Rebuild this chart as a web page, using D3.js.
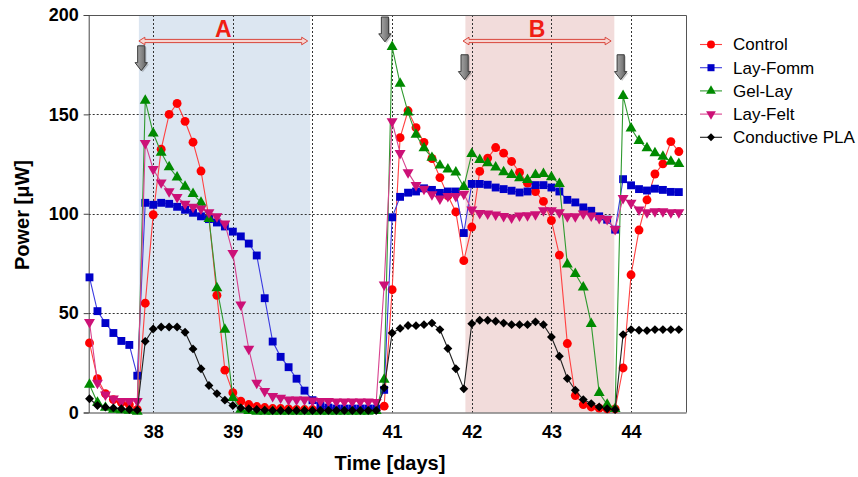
<!DOCTYPE html>
<html>
<head>
<meta charset="utf-8">
<script src="https://cdn.jsdelivr.net/npm/d3@7"></script>
<style>
  html, body { margin: 0; padding: 0; background: #fff; }
  svg { display: block; font-family: "Liberation Sans", Arial, sans-serif; }
</style>
</head>
<body>
<svg id="chart" width="858" height="477"></svg>
<script>
// ---------- data ----------
const times = [37.2,37.3,37.4,37.5,37.6,37.7,37.8,37.9,38.0,38.1,38.2,38.3,38.4,38.5,38.6,38.7,38.8,38.9,39.0,39.1,39.2,39.3,39.4,39.5,39.6,39.7,39.8,39.9,40.0,40.1,40.2,40.3,40.4,40.5,40.6,40.7,40.8,40.9,41.0,41.1,41.2,41.3,41.4,41.5,41.6,41.7,41.8,41.9,42.0,42.1,42.2,42.3,42.4,42.5,42.6,42.7,42.8,42.9,43.0,43.1,43.2,43.3,43.4,43.5,43.6,43.7,43.8,43.9,44.0,44.1,44.2,44.3,44.4,44.5,44.6];

const control = [35,17,9.5,6.5,5,4,1.5,55,99.5,132.5,150,155.5,146.5,136,121.5,98,59,21.3,10,5.7,4,3,2.5,2,2,1.8,1.5,1.5,1.5,1.5,1.5,1.5,1.5,1.5,1.5,1.5,1.5,3.2,61.8,138.3,151.8,143.3,135.9,127.8,118.2,109,100.9,76.4,93.3,121.3,128,133.3,130.5,126.3,120.8,115.4,111.2,106.2,96.6,79.2,34.7,8.5,4,2.8,2.2,1.8,1.8,22.4,69.3,91.8,107,120,125.1,136.3,131.3];

const layFomm = [68,51,45,40,36,34,18.5,105.5,104.5,105.5,105,103.5,102,100.5,98.7,97.3,95.6,93.6,91,88.6,85,79,57.5,35.7,28,22.8,17,11,6.2,3.5,2.5,2,2,2,2,2,2,11.4,98.2,108.5,110.6,111.2,112.8,112,110.5,111.2,111.2,90.3,115,115,114.6,113.2,112.4,111.6,110.7,111.2,114.4,114.4,113.2,111.2,107,105.7,103.2,101.5,98.7,97,92,117.4,114.3,112.4,111.7,112.6,112,111,110.9];

const gelLay = [14,5,2.5,1.5,1.2,1,0.5,157,140.5,130.8,123.5,118.3,113.7,110,105.6,97.5,62.6,41.7,7.4,1.5,0.8,0.5,0.5,0.5,0.5,0.5,0.5,0.5,0.5,0.5,0.5,0.5,0.5,0.5,0.5,0.5,0.8,16.6,184,165.5,151,139.8,133,128.2,124.3,122.4,120.8,113.5,130.2,127.1,125.5,123.3,121,119.6,117.9,117.1,119.6,120.1,118.4,115.1,74.6,69.8,63,44.6,9.9,4,1.9,159.3,143,136.7,133,130.5,128.8,126.3,125.1];

const layFelt = [45.4,14.9,9,6.9,5.7,5.7,5.7,135.5,122.4,115.7,111.2,108.4,105,103.4,102.5,100.7,98.7,95,80.2,54.3,32,14.9,10.7,8.2,7.4,6.5,6.5,6.5,6,5.7,5.7,5.5,5.5,5.5,5.5,5.5,5.2,64.3,146.4,130.5,120.8,114.4,112.5,109.7,107.6,108.8,108.8,110,102,100.3,100.1,99.5,98.8,98,99,99.2,99.7,101.7,101.7,100.7,98.7,98.7,100,99,97.8,97.3,92.3,107.9,105.4,102,100.7,101.2,101.2,100.7,100.7];

const conductivePLA = [6.9,3.5,2.7,2.3,1.9,1.5,1.2,35.8,42,43,43,43,40.4,32,22,13.6,9.5,6.2,3.5,2.3,1.9,1.5,1.2,1,1,1,1,1,1,1,1,1,1,1,1,1,1,12.4,40,42.3,43.8,43.7,44.2,45,41.7,32.2,22,11.9,44.7,46.4,46.4,45.9,45,44.2,44.2,44.2,45.6,44.2,38,28.3,17.1,11.2,6.5,4.5,2.8,1.9,1.5,39.2,41.7,41.4,41.2,41.7,41.7,41.7,41.7];

const seriesNames = ["Control","Lay-Fomm","Gel-Lay","Lay-Felt","Conductive PLA"];
const seriesValues = [control, layFomm, gelLay, layFelt, conductivePLA];
const xTicks = [38,39,40,41,42,43,44];
const yTicks = [0,50,100,150,200];

// annotations (data coordinates)
const regionLabels = ["A","B"];
const regionStart = [37.82, 41.92];
const regionEnd   = [39.97, 43.79];
const rangeArrowStart = [37.82, 41.89];
const rangeArrowEnd   = [39.94, 43.75];
const downArrowT   = [37.85, 40.91, 41.91, 43.87];
const downArrowTop = [184.5, 199, 180, 180];
const downArrowBot = [172, 186.5, 167.5, 167.5];

// ---------- styles ----------
const colors = ["#ff0000","#0000c8","#008a00","#cc1177","#000000"];
const lineColors = ["#ff4040","#3a3ae0","#2f9a2f","#d8428f","#222222"];
const symbols = [d3.symbolCircle, d3.symbolSquare, d3.symbolTriangle, d3.symbolTriangle, d3.symbolDiamond2];
const symSizes = [62, 62, 52, 52, 50];
const symRot = [0, 0, 0, 180, 0];

const svg = d3.select("#chart");
const M = {left: 88.7, right: 686, top: 15, bottom: 412.5};
const x = d3.scaleLinear().domain([37.19, 44.69]).range([M.left, M.right]);
const y = d3.scaleLinear().domain([0, 200]).range([M.bottom, M.top]);

// shaded regions
const regionFill = ["#dce6f1", "#f2dcdb"];
svg.append("g").selectAll("rect").data(regionLabels).join("rect")
  .attr("x", (d,i) => x(regionStart[i]))
  .attr("y", y(200))
  .attr("width", (d,i) => x(regionEnd[i]) - x(regionStart[i]))
  .attr("height", y(0) - y(200))
  .attr("fill", (d,i) => regionFill[i]);

// gridlines
const grid = svg.append("g").attr("stroke", "#333").attr("stroke-width", 1).attr("stroke-dasharray", "2,2");
grid.selectAll("line.h").data(yTicks.filter(v => v > 0 && v < 200)).join("line")
  .attr("x1", M.left).attr("x2", M.right)
  .attr("y1", d => Math.round(y(d)) + 0.5).attr("y2", d => Math.round(y(d)) + 0.5);
grid.selectAll("line.v").data(xTicks).join("line")
  .attr("y1", M.top).attr("y2", M.bottom)
  .attr("x1", d => Math.round(x(d)) + 0.5).attr("x2", d => Math.round(x(d)) + 0.5);

// frame (top and right)
svg.append("path")
  .attr("d", `M${M.left},${M.top + 0.5}H${M.right + 0.5}V${M.bottom}`)
  .attr("fill", "none").attr("stroke", "#555").attr("stroke-width", 1);

// axes
const yAxis = d3.axisLeft(y).tickValues(yTicks).tickSize(5).tickPadding(5);
const gy = svg.append("g").attr("transform", `translate(${M.left},0)`).call(yAxis);
gy.selectAll("text").attr("font-size", 18).attr("font-weight", "bold").attr("fill", "#000")
  .attr("font-family", "'Liberation Sans', Arial, sans-serif");
gy.selectAll("line, path").attr("stroke", "#444");

const xAxis = d3.axisBottom(x).tickValues(xTicks).tickSize(0).tickPadding(13).tickFormat(d3.format("d"));
const gx = svg.append("g").attr("transform", `translate(0,${M.bottom})`).call(xAxis);
gx.selectAll("text").attr("font-size", 18).attr("font-weight", "bold").attr("fill", "#000")
  .attr("font-family", "'Liberation Sans', Arial, sans-serif");
gx.select("path").attr("stroke", "#444");

// axis titles
svg.append("text").attr("x", 390).attr("y", 470).attr("text-anchor", "middle")
  .attr("font-size", 20).attr("font-weight", "bold").text("Time [days]");
svg.append("text").attr("transform", "translate(29,215) rotate(-90)").attr("text-anchor", "middle")
  .attr("font-size", 20).attr("font-weight", "bold").text("Power [μW]");

// range double arrows + labels
const defs = svg.append("defs");
const grad = defs.append("linearGradient").attr("id", "grayArrow").attr("x1", 0).attr("x2", 1).attr("y1", 0).attr("y2", 0);
grad.append("stop").attr("offset", "0%").attr("stop-color", "#b0b0b0");
grad.append("stop").attr("offset", "50%").attr("stop-color", "#8a8a8a");
grad.append("stop").attr("offset", "100%").attr("stop-color", "#5c5c5c");

const arrowY = 41;
regionLabels.forEach((lab, i) => {
  const x1 = x(rangeArrowStart[i]), x2 = x(rangeArrowEnd[i]);
  const sh = 1.6, hh = 3.8, hl = 6;
  const p = `M${x1},${arrowY} L${x1+hl},${arrowY-hh} L${x1+hl},${arrowY-sh} L${x2-hl},${arrowY-sh} L${x2-hl},${arrowY-hh} L${x2},${arrowY} L${x2-hl},${arrowY+hh} L${x2-hl},${arrowY+sh} L${x1+hl},${arrowY+sh} L${x1+hl},${arrowY+hh} Z`;
  svg.append("path").attr("d", p).attr("fill", "#f7d6d2").attr("stroke", "#d9463c").attr("stroke-width", 1);
  svg.append("text").attr("x", (x1 + x2) / 2).attr("y", 37).attr("text-anchor", "middle")
    .attr("font-size", 23).attr("font-weight", "bold").attr("fill", "#f01e14").text(lab);
});

// gray down arrows
downArrowT.forEach((t, i) => {
  const cx = x(t), y0 = y(downArrowTop[i]), y1 = y(downArrowBot[i]);
  const sw = 3.6, hw = 6.2, hh = 8;
  const p = `M${cx-sw},${y0} L${cx+sw},${y0} L${cx+sw},${y1-hh} L${cx+hw},${y1-hh} L${cx},${y1} L${cx-hw},${y1-hh} L${cx-sw},${y1-hh} Z`;
  svg.append("path").attr("d", p).attr("transform", "translate(1.5,1.5)").attr("fill", "#000").attr("opacity", 0.2);
  svg.append("path").attr("d", p).attr("fill", "url(#grayArrow)").attr("stroke", "#3a3a3a").attr("stroke-width", 1);
});

// series
const line = d3.line().x((d, j) => x(times[j])).y(d => y(d));
seriesValues.forEach((vals, i) => {
  const g = svg.append("g");
  g.append("path").datum(vals).attr("d", line).attr("fill", "none")
    .attr("stroke", lineColors[i]).attr("stroke-width", 1.1);
  const sym = d3.symbol().type(symbols[i]).size(symSizes[i]);
  g.selectAll("path.m").data(vals).join("path").attr("class", "m")
    .attr("d", sym)
    .attr("transform", (d, j) => `translate(${x(times[j])},${y(d)}) rotate(${symRot[i]})`)
    .attr("fill", colors[i]);
});

// legend
const lg = svg.append("g");
seriesNames.forEach((name, i) => {
  const ly = 44.5 + i * 23.2;
  lg.append("line").attr("x1", 700).attr("x2", 722).attr("y1", ly).attr("y2", ly)
    .attr("stroke", lineColors[i]).attr("stroke-width", 1.1);
  lg.append("path").attr("d", d3.symbol().type(symbols[i]).size(symSizes[i] * 0.8))
    .attr("transform", `translate(711,${ly}) rotate(${symRot[i]})`).attr("fill", colors[i]);
  lg.append("text").attr("x", 733).attr("y", ly).attr("dy", "0.35em")
    .attr("font-size", 17).attr("fill", "#000").text(name);
});
</script>
</body>
</html>
